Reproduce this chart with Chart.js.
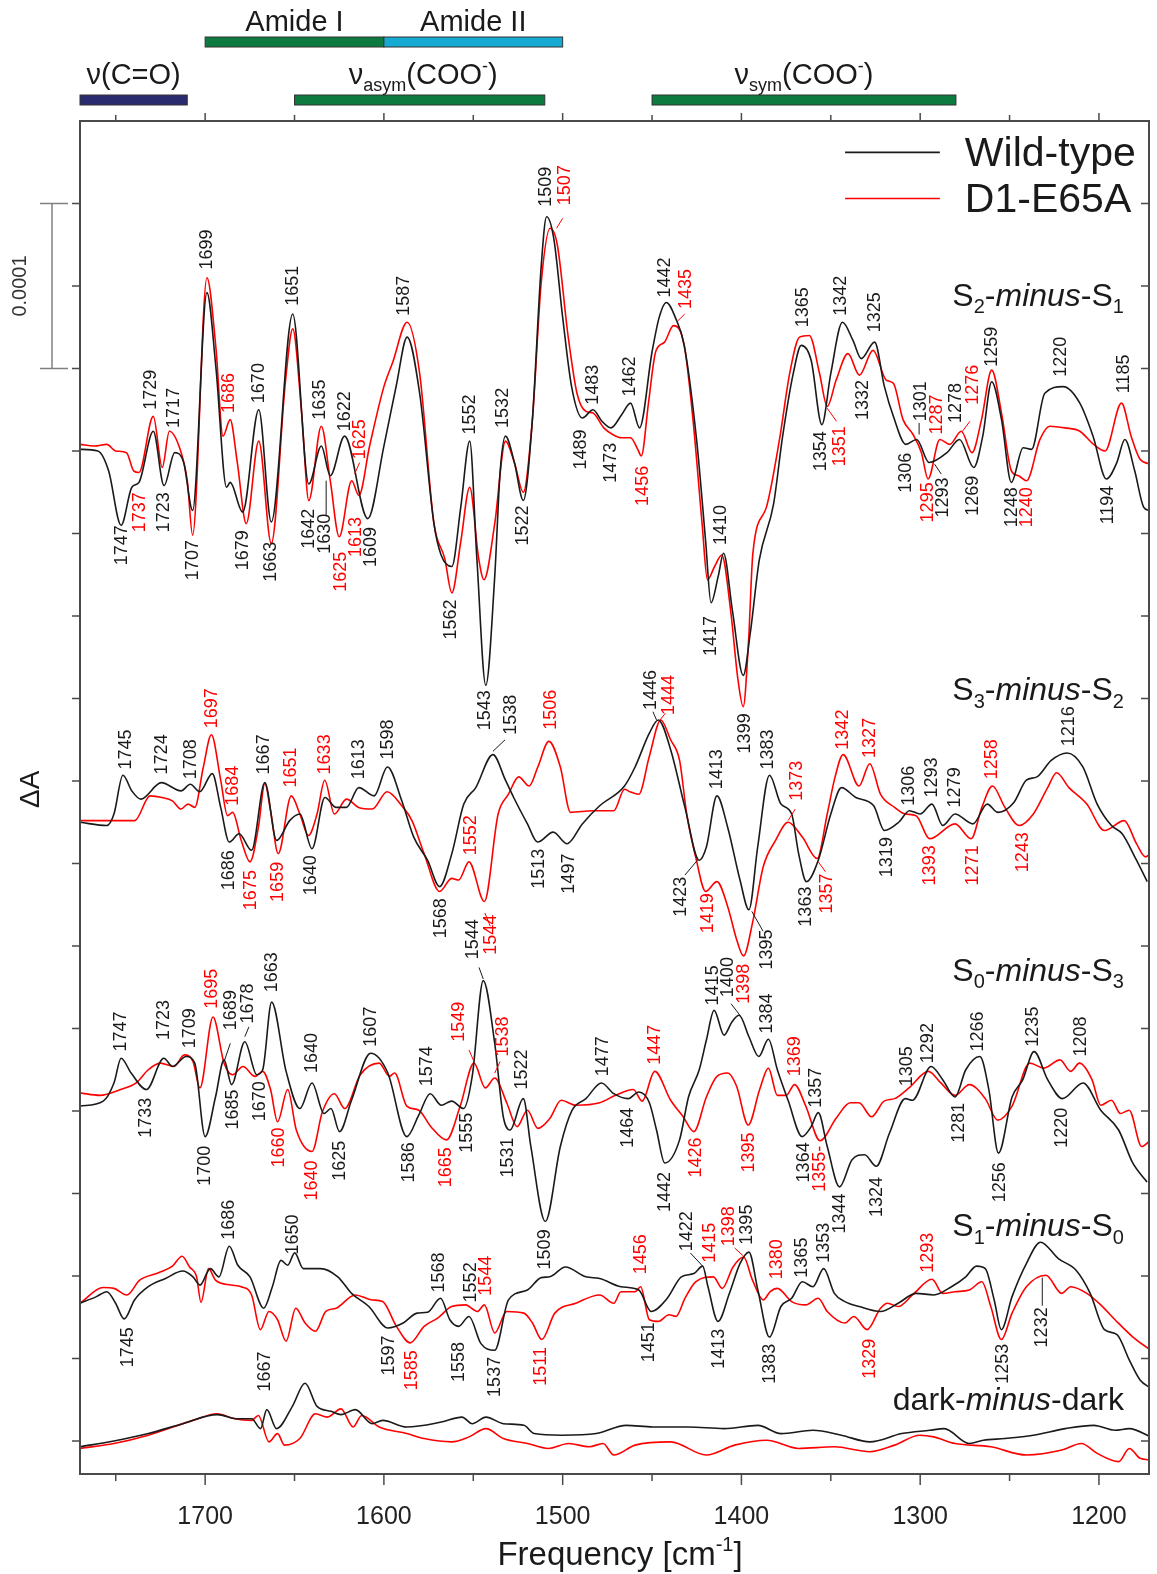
<!DOCTYPE html>
<html>
<head>
<meta charset="utf-8">
<title>Espectros FTIR S-state</title>
<script src="https://cdn.jsdelivr.net/npm/chart.js@4.4.1/dist/chart.umd.min.js"></script>
<style>
  html, body { margin: 0; padding: 0; background: #fff; }
  canvas { display: block; }
</style>
</head>
<body>
<canvas id="grafico" width="1157" height="1574"></canvas>
<script>
// Eje de frecuencia (cm-1), invertido
const xMin = 1172, xMax = 1770;
const xTickLabels = [1700, 1600, 1500, 1400, 1300, 1200];

// Desplazamiento vertical de cada espectro (unidades de 1e-5 ΔA)
const offsets = [60, 37.5, 20.5, 8.5, 0];

// Espectros: [numero de onda, ΔA x 1e-5]
const wtS2S1 = [[1770,0.1],[1760,0],[1754,-1.2],[1747,-4.5],[1741,-2.2],[1737,-1.9],[1729,1.2],[1723,-2.1],[1717,-0.1],[1712,-0.7],[1707,-3.6],[1699,9.6],[1694,5.1],[1688,-2.2],[1686,-1.9],[1679,-3.7],[1670,2.5],[1663,-4.3],[1651,8.3],[1642,-2.0],[1635,0.3],[1630,-1.5],[1622,0.9],[1609,-4.1],[1600,0.3],[1593,4.0],[1587,6.9],[1580,3.5],[1572,-4.4],[1568,-6.3],[1562,-7.0],[1557,-3.4],[1552,0.6],[1548,-6.5],[1543,-14.2],[1538,-7.6],[1535,-1.3],[1532,0.9],[1527,-0.7],[1522,-3.0],[1517,1.8],[1512,11.2],[1509,14.2],[1505,12.9],[1500,8.1],[1495,3.9],[1489,2.0],[1483,2.5],[1478,1.8],[1473,1.4],[1467,2.2],[1462,2.9],[1457,1.4],[1450,6.0],[1446,8.1],[1442,9.0],[1437,8.1],[1432,6.4],[1425,0.6],[1420,-5.5],[1417,-9.2],[1413,-7.6],[1410,-6.2],[1405,-9.7],[1399,-13.6],[1395,-11.0],[1390,-6.6],[1382,-3.2],[1377,0.85],[1371,4.7],[1366.5,6.4],[1361,5.5],[1355,1.6],[1350,4.7],[1343.5,7.8],[1337.6,6.7],[1333,5.6],[1325.5,6.6],[1320,3.9],[1315,2.1],[1308,0.4],[1302,0.7],[1295,-0.7],[1285,-0.1],[1278,0.7],[1270,-1.0],[1265,0.9],[1260,4.2],[1254.5,1.9],[1249,-1.9],[1242.4,0.2],[1237.7,0.1],[1230.3,3.5],[1220,3.9],[1210.7,2.9],[1203.3,0.9],[1195.8,-1.7],[1190,-0.7],[1185.5,0.7],[1180,-1.2],[1175,-3.4],[1172,-3.6]];
const mutS2S1 = [[1770,0.4],[1762,0.3],[1755,0.4],[1750,0],[1744,-0.1],[1740,-1.2],[1737,-1.3],[1729,2.1],[1724,-1.0],[1720,1.2],[1714,0.1],[1710,-1.8],[1707,-5.1],[1699,10.5],[1694,6.3],[1690,0.9],[1686,1.9],[1682,-0.7],[1677,-4.4],[1670,0.6],[1663,-5.6],[1655,4.3],[1651,7.4],[1646,2.3],[1642,-3.0],[1635,1.5],[1630,-1.8],[1625,-5.2],[1618,-1.8],[1614,-2.7],[1608,0.3],[1600,3.9],[1595,5.4],[1587,7.8],[1580,4.7],[1572,-4.4],[1566,-6.5],[1562,-8.6],[1557,-5.5],[1552,-2.2],[1547,-6.5],[1544,-7.8],[1538,-4.4],[1532,0.6],[1527,-0.7],[1522,-2.5],[1517,1.8],[1512,10.2],[1507,13.5],[1503,12.5],[1497,7.0],[1492,3.5],[1487,2.4],[1483,2.3],[1477,1.4],[1472,1.0],[1467,0.8],[1462,0.8],[1458,0.1],[1456,-0.3],[1452,2.9],[1448,6.0],[1443,6.6],[1438,7.6],[1432,6.4],[1427,1.8],[1422,-4.4],[1419,-7.8],[1415,-7.0],[1411,-6.3],[1406,-9.7],[1402,-13.8],[1399,-15.5],[1396,-11.5],[1393.6,-6.2],[1386,-3.4],[1378.7,0.7],[1373,4.7],[1367.5,6.9],[1362,7.0],[1356.3,4.7],[1352,2.7],[1347,4.3],[1340.4,5.9],[1334,4.6],[1326.4,6.1],[1319,4.3],[1315,4.1],[1309.6,1.9],[1304,1.0],[1299.3,-0.1],[1295.6,-1.7],[1289,0.7],[1283.5,0.4],[1277,1.2],[1271,-0.1],[1265.7,1.9],[1260,4.9],[1254.5,2.3],[1249,-1.2],[1245,-1.5],[1240.5,-1.8],[1233,0.7],[1227.5,1.5],[1219,1.4],[1210.7,1.2],[1203,0.4],[1196.6,0],[1187.4,2.9],[1182,0.9],[1177,-0.5],[1171,-0.8]];

const wtS3S2 = [[1770,0.0],[1755,-0.2],[1751,0.5],[1746,2.85],[1741,1.9],[1736,1.4],[1724.5,2.4],[1713.5,1.9],[1708.3,2.3],[1703,1.85],[1696,2.95],[1691.3,0.9],[1686.5,-1.2],[1681,-0.7],[1674,-1.7],[1666.6,2.4],[1660,-1.1],[1652.7,0.1],[1647,0.5],[1640.2,-1.6],[1633,1.5],[1626.7,0.9],[1621,0.9],[1614,2.1],[1605.5,1.6],[1598,3.35],[1590,1.3],[1583.3,-0.9],[1575.6,-2.3],[1568.8,-3.9],[1562,-1.9],[1555.3,1.1],[1548.6,2.1],[1539,4.1],[1532,2.55],[1527.4,1.5],[1519.7,-0.1],[1514,-1.2],[1505.3,-0.6],[1497.5,-1.3],[1489,-0.1],[1479.3,1.0],[1465.4,2.2],[1459.5,3.35],[1451.5,5.4],[1446.5,6.2],[1439.6,4.4],[1431.6,0.9],[1423.6,-2.3],[1419.6,-1.5],[1413.7,1.6],[1407.7,-0.3],[1400.8,-3.5],[1395.8,-5.3],[1390.9,-1.5],[1384.3,2.85],[1377.9,1.1],[1371.9,0.5],[1368,-1.9],[1363.6,-3.6],[1357,-2.3],[1350,0.5],[1344,2.1],[1336,1.5],[1326,1.0],[1320,-0.5],[1312,0.0],[1306,0.7],[1300,0.5],[1293.4,1.1],[1287.4,-0.2],[1280.5,0.5],[1270.5,-0.1],[1262.5,1.1],[1256.5,0.6],[1247.6,1.2],[1240.6,2.55],[1234.7,2.75],[1226.7,3.75],[1217.8,4.2],[1209,3.35],[1201,1.1],[1193,-0.2],[1187,-0.7],[1179,-2.3],[1173,-3.6]];
const mutS3S2 = [[1770,0.1],[1751,0.1],[1739.4,0.1],[1730.8,1.6],[1724.1,1.5],[1718.3,1.3],[1713.5,0.8],[1709.6,1.1],[1705.8,0.9],[1701,3.35],[1696.5,5.3],[1691.3,2.55],[1687.5,0.4],[1684.6,0.6],[1679.8,-1.1],[1674.9,-2.4],[1670.2,-0.3],[1666.6,2.35],[1663.4,0.7],[1659.1,-1.9],[1651.8,1.6],[1647,0.5],[1642.2,-0.8],[1637.4,0.5],[1633.1,2.55],[1627.7,0.5],[1620.9,1.4],[1614.2,0.9],[1606.5,0.8],[1598.2,1.85],[1590,1.0],[1584.3,0.1],[1577.5,-1.9],[1568.8,-4.2],[1562.1,-3.4],[1558.2,-3.5],[1552.4,-2.4],[1543.8,-4.8],[1536.1,0.5],[1530.3,1.7],[1524.6,2.75],[1518.7,2.2],[1513.9,3.35],[1507.7,4.9],[1501.3,3.35],[1495.6,0.6],[1483,0.7],[1471.4,0.7],[1465.4,2.0],[1462.4,1.85],[1457.4,1.7],[1451.5,4.0],[1445.1,6.2],[1439.6,5.0],[1434.6,3.75],[1430.6,0.5],[1425.6,-2.1],[1420,-4.2],[1413.7,-3.6],[1407.7,-5.1],[1402.7,-7.1],[1398.8,-8.1],[1393.8,-6.1],[1387.8,-2.7],[1380.9,-1.1],[1373.9,0.0],[1365.9,-0.9],[1357.6,-2.2],[1352,0.5],[1347.6,2.75],[1343.1,4.1],[1334.2,2.2],[1328.2,3.55],[1322.2,1.7],[1314.3,0.9],[1308.3,0.5],[1302.3,0.4],[1294.7,-1.0],[1280.5,-0.1],[1271.5,-1.0],[1265.5,0.9],[1259.6,2.2],[1252.6,0.9],[1244.6,-0.2],[1236.7,0.5],[1228.7,2.1],[1223.7,3.0],[1216.8,2.1],[1206.8,1.1],[1196.9,-0.5],[1185.9,0.1],[1179,-1.3],[1174,-2.1],[1171,-1.9]];

const wtS0S3 = [[1770,-0.2],[1757,0.1],[1751,1.2],[1747,2.7],[1741.4,1.8],[1732.8,0.8],[1723.1,2.7],[1718.3,2.2],[1710.6,2.8],[1705.8,2.4],[1700,-2.05],[1694.2,0.35],[1689.4,2.6],[1685.2,1.1],[1677.8,3.7],[1671.1,1.7],[1667.8,2.0],[1662.8,6.1],[1654.7,1.9],[1647,-0.35],[1640.2,1.2],[1633.5,-0.65],[1629.6,-0.35],[1624.8,-1.75],[1618.1,0.15],[1607.4,3.0],[1597.8,1.8],[1587.2,-2.05],[1580.5,-0.75],[1574.1,0.55],[1567.9,-0.15],[1562.1,0.1],[1555.4,-0.35],[1550.6,1.6],[1544.4,7.4],[1538,3.6],[1533.2,-0.85],[1529.4,-1.65],[1522,0.25],[1517.8,-2.65],[1509.7,-7.2],[1501.3,-2.65],[1494.7,-0.45],[1487,0.25],[1478.3,1.2],[1471.4,0.55],[1463.4,0.25],[1457.4,0.65],[1451.5,0.0],[1447.5,-1.65],[1442.9,-3.65],[1434.6,-2.25],[1429.6,0.35],[1423.6,2.0],[1419.6,3.8],[1415.3,5.6],[1409.7,4.1],[1405.3,4.9],[1401.3,5.3],[1395.8,4.0],[1390.3,2.8],[1384.9,3.85],[1379.9,2.0],[1373.9,0.15],[1366,-2.05],[1361,-1.45],[1357,-0.6],[1352,-2.65],[1345.1,-5.1],[1338.1,-3.45],[1331.1,-3.15],[1324.6,-3.85],[1317.2,-1.85],[1308.3,0.25],[1304.3,0.15],[1293.9,2.2],[1287.4,1.4],[1280.5,0.35],[1274.5,2.0],[1266.6,2.8],[1261.6,0.8],[1256.2,-3.05],[1248.6,0.35],[1242.6,1.4],[1236.3,3.1],[1228.7,1.4],[1220.4,0.25],[1208.9,1.2],[1199,-0.45],[1189,-1.65],[1181.1,-3.65],[1173.1,-4.8]];
const mutS0S3 = [[1770,0.6],[1758.8,0.45],[1747.3,0.8],[1738.6,1.2],[1731.8,2.0],[1725.1,2.4],[1717.4,2.2],[1711.6,2.9],[1706.8,2.5],[1702.9,0.9],[1695.6,5.2],[1689.4,2.4],[1684.6,1.7],[1678.8,2.2],[1672.1,1.6],[1667.8,1.9],[1663.4,0.8],[1659.5,-1.15],[1653.8,0.8],[1649,-1.65],[1640.2,-2.95],[1634.4,-0.55],[1627.7,0.55],[1621.9,-0.35],[1613.2,1.7],[1602.6,2.4],[1596.9,1.6],[1594,1.8],[1587.2,-0.2],[1580.5,-0.45],[1573.7,-1.45],[1565,-2.25],[1557.3,-0.2],[1549.6,2.4],[1543.3,0.9],[1538,1.5],[1531.3,0.0],[1525.5,-1.45],[1519.7,-0.45],[1513.9,-1.55],[1507.2,-0.95],[1500.8,0.15],[1492.7,-0.15],[1479.3,0.0],[1470.4,0.45],[1460.5,0.8],[1455.5,0.1],[1448.5,1.9],[1439.6,0.15],[1432.6,-0.85],[1426.6,-1.75],[1419.6,0.35],[1413.7,1.6],[1407.7,1.8],[1402.7,1.0],[1396.2,-1.35],[1389.8,0.8],[1384.9,2.1],[1379.9,0.45],[1374.9,0.45],[1370.3,1.1],[1364,-0.2],[1356,-2.3],[1347.1,-0.95],[1339.1,0.0],[1334.2,0.0],[1327.2,-0.85],[1320.2,0.1],[1314.3,0.25],[1306.3,0.9],[1295.4,1.9],[1288.4,1.2],[1280.5,0.45],[1272.5,1.1],[1263.6,0.25],[1256.6,-1.05],[1248.6,-0.2],[1238.7,2.4],[1230.8,2.1],[1221.8,2.6],[1215.8,1.9],[1210.9,2.4],[1203.9,1.4],[1199,-0.15],[1193,0.15],[1188,-0.65],[1183.1,-0.45],[1176.1,-2.65],[1171,-2.25]];

const wtS1S0 = [[1770,-0.15],[1760.8,0.25],[1755,0.55],[1750.1,-0.15],[1745.3,-1.1],[1739.5,0.05],[1731.8,0.85],[1722.2,1.35],[1712.5,1.8],[1706.8,1.45],[1702.9,0.95],[1697.1,1.95],[1692.3,1.45],[1686.5,3.3],[1681.7,2.15],[1674.9,1.45],[1667.2,-0.45],[1662.4,0.85],[1657.6,2.45],[1653.8,2.15],[1649.9,2.9],[1645.1,1.95],[1635.5,1.95],[1625.8,1.45],[1618.1,0.45],[1608.4,-0.35],[1597.8,-1.65],[1589.2,-1.35],[1581.4,-0.75],[1575.6,-0.7],[1568.3,0.15],[1563.1,-1.15],[1558.2,-1.55],[1552.4,-0.95],[1545.7,-2.6],[1538,-3.0],[1530.3,0.05],[1519.7,0.65],[1512,1.4],[1507.2,1.45],[1498.5,2.05],[1487,1.45],[1479.3,1.35],[1467.4,0.85],[1457.4,0.65],[1450.5,-0.65],[1441.5,0.15],[1433.6,1.45],[1426.6,1.65],[1421.7,2.1],[1418.7,0.85],[1413.1,-1.25],[1406.7,0.45],[1400.8,2.25],[1395.8,2.95],[1390.8,0.65],[1384.3,-2.2],[1377.9,-0.35],[1371.9,0.15],[1365.9,1.15],[1360,0.85],[1354,1.95],[1348,0.45],[1342.1,-0.05],[1334.1,-0.35],[1322.2,-0.65],[1312.3,-0.15],[1302.3,0.45],[1292.4,0.35],[1282.5,0.85],[1274.5,1.45],[1268.5,2.1],[1263.6,1.95],[1258.6,0.05],[1254.6,-1.75],[1248.6,0.25],[1240.6,2.25],[1232.7,3.55],[1222.7,2.55],[1212.8,1.85],[1204.9,0.45],[1196.9,-1.75],[1189.9,-2.05],[1183,-3.6],[1177,-4.8],[1171,-5.3]];
const mutS1S0 = [[1770,-0.15],[1757,0.8],[1751,0.75],[1743.8,0.35],[1736.6,1.25],[1726,1.7],[1718.3,2.1],[1712.9,2.7],[1708.7,2.05],[1704.8,1.45],[1702.3,-0.1],[1698.1,1.95],[1694.2,1.25],[1685.5,0.95],[1679.8,0.85],[1674,0.35],[1669.1,-1.75],[1664.3,-0.65],[1659.5,-1.15],[1654.7,-2.45],[1649.3,-0.45],[1644.1,-1.35],[1638.3,-1.85],[1632.5,-0.65],[1626.7,-0.45],[1616.1,0.35],[1606.5,0.05],[1600.7,-0.05],[1593,-1.55],[1585.3,-2.55],[1577.5,-1.55],[1569.9,-1.05],[1562.1,-0.35],[1554.4,-0.25],[1547.7,-0.65],[1543.8,-0.25],[1538,-1.95],[1531.3,-0.65],[1521.7,-0.75],[1516.9,-1.35],[1511.7,-2.35],[1504.4,-0.75],[1492.7,-0.15],[1479.3,0.35],[1471.4,-0.15],[1467.4,0.55],[1459.5,0.55],[1456.4,0.85],[1451.5,-1.15],[1446.5,-1.25],[1440.5,-0.85],[1436.6,-0.95],[1431.6,0.15],[1425.6,1.15],[1415.7,1.45],[1410.7,0.75],[1404.7,2.05],[1398.8,2.65],[1393.8,1.25],[1387.8,0.05],[1383.9,0.55],[1379.9,0.75],[1371.9,-0.05],[1364,-0.25],[1357,0.15],[1352,-0.65],[1342.1,-1.35],[1337.1,-0.95],[1329.7,-1.75],[1322.2,-0.45],[1318.2,-0.15],[1312.3,-0.35],[1304.3,0.35],[1293.4,1.3],[1287.4,0.45],[1280.5,0.55],[1272.5,0.65],[1265.5,1.15],[1260.5,-0.35],[1254.6,-2.35],[1248.6,-0.75],[1240.6,0.85],[1229.7,1.55],[1220.8,0.45],[1215.8,0.85],[1206.8,0.45],[1199,-0.25],[1191,-1.15],[1181,-2.2],[1171,-3.0]];

const wtDark = [[1770,-0.35],[1751,0],[1731.8,0.45],[1712.5,1.05],[1693.2,1.6],[1681.7,1.35],[1674,1.35],[1669,0.75],[1665.5,1.9],[1660,0.75],[1651.2,2.1],[1644.1,3.5],[1637.4,2.1],[1629.6,1.8],[1624,1.6],[1616,1.9],[1606.5,1.05],[1600.7,1.25],[1587.2,0.85],[1567.9,1.15],[1556.3,1.45],[1550.6,1.05],[1542.9,1.45],[1533.2,1.05],[1521.7,0.95],[1515.9,0.45],[1500.4,0.35],[1481.2,0.45],[1464.4,0.95],[1449.5,0.85],[1429.6,0.85],[1409.7,0.75],[1390.8,0.95],[1377.9,0.45],[1360,0.65],[1344.1,0.35],[1328.2,-0.05],[1310.3,0.45],[1294.6,0.65],[1286.6,0.75],[1272.5,-0.15],[1264.6,0.05],[1252.6,0.15],[1236.7,0.35],[1218.8,0.75],[1202.9,0.95],[1191,0.65],[1183,0.75],[1171,0.25]];
const mutDark = [[1770,-0.45],[1751,-0.15],[1731.8,0.35],[1706.8,1.25],[1693.2,1.65],[1683.6,1.35],[1674,1.25],[1670.2,1.55],[1664.3,-0.05],[1659.5,0.45],[1655.6,-0.25],[1647,0.15],[1638.3,1.65],[1631.6,1.45],[1624,1.95],[1617.2,0.85],[1612.4,1.55],[1602.6,0.85],[1587.2,0.45],[1577.5,0.15],[1562.1,-0.05],[1552.4,0.25],[1542.9,0.75],[1533.2,0.15],[1519.7,-0.15],[1508.1,-0.45],[1496.6,-0.15],[1485.1,-0.35],[1477.4,-0.15],[1471.4,-0.85],[1459.5,-0.25],[1439.6,-0.05],[1419.7,-0.85],[1403.8,-0.25],[1385.9,0.05],[1368,-0.45],[1348,-0.35],[1328.2,-0.65],[1314.3,-0.25],[1300.3,0.35],[1292.4,0.25],[1280.5,-0.15],[1260.5,-0.35],[1240.6,-0.85],[1220.8,-0.55],[1209.8,-0.15],[1201,-0.75],[1189,-1.25],[1183,-0.45],[1177,-1.05],[1171,-1.15]];

// Etiquetas de picos: [numero de onda, posicion vertical, texto, color, direccion]
const peakLabels = [
  // S2-minus-S1
  [1746.3,55.5,'1747','k','d'],[1736.6,57.5,'1737','r','d'],[1730,62.5,'1729','k','u'],[1722.8,57.5,'1723','k','d'],
  [1717.6,61.4,'1717','k','u'],[1707,54.6,'1707','k','d'],[1698.9,71.0,'1699','k','u'],[1686.4,62.3,'1686','r','u'],
  [1679,55.2,'1679','k','d'],[1670,62.9,'1670','k','u'],[1663,54.5,'1663','k','d'],[1651,68.8,'1651','k','u'],
  [1641.6,56.5,'1642','k','d'],[1635.9,61.9,'1635','k','u'],[1633,56.2,'1630','k','d'],[1622,61.2,'1622','k','u'],
  [1613.6,59.5,'1625','r','u'],[1615.5,56.0,'1613','r','d'],[1624,53.9,'1625','r','d'],[1607,55.4,'1609','k','d'],
  [1588.5,68.2,'1587','k','u'],[1562.4,51.0,'1562','k','d'],[1552,61.0,'1552','k','u'],[1543.6,45.5,'1543','k','d'],
  [1533.4,61.4,'1532','k','u'],[1522,56.7,'1522','k','d'],[1509.1,74.8,'1509','k','u'],[1498.4,74.9,'1507','r','u'],
  [1489.5,61.3,'1489','k','d'],[1483,62.8,'1483','k','u'],[1472.8,60.5,'1473','k','d'],[1462.5,63.3,'1462','k','u'],
  [1455,59.1,'1456','r','d'],[1443,69.3,'1442','k','u'],[1431,68.6,'1435','r','u'],[1416.8,50.0,'1417','k','d'],
  [1411.2,54.3,'1410','k','u'],[1397.8,44.1,'1399','k','d'],[1365.5,67.5,'1365','k','u'],[1344,68.2,'1342','k','u'],
  [1325.4,67.2,'1325','k','u'],[1331.9,64.3,'1332','k','d'],[1355.3,61.2,'1354','k','d'],[1345,61.5,'1351','r','d'],
  [1307.7,59.9,'1306','k','d'],[1299.3,61.8,'1301','k','u'],[1295.5,58.1,'1295','r','d'],[1287,58.4,'1293','k','d'],
  [1290.8,61.0,'1287','r','u'],[1279.8,61.7,'1278','k','u'],[1270.3,62.8,'1276','r','u'],[1270.3,58.5,'1269','k','d'],
  [1259.8,65.1,'1259','k','u'],[1248.9,57.8,'1248','k','d'],[1240.5,57.8,'1240','r','d'],[1221,64.5,'1220','k','u'],
  [1194.7,57.9,'1194','k','d'],[1186.1,63.5,'1185','k','u'],
  // S3-minus-S2
  [1744.4,40.7,'1745','k','u'],[1724.1,40.4,'1724','k','u'],[1707.7,40.1,'1708','k','u'],[1696.1,43.2,'1697','r','u'],
  [1684.2,38.5,'1684','r','u'],[1667.2,40.4,'1667','k','u'],[1651.8,39.6,'1651','r','u'],[1632.9,40.4,'1633','r','u'],
  [1614,40.1,'1613','k','u'],[1597.8,41.3,'1598','k','u'],[1686.5,35.8,'1686','k','d'],[1674.6,34.6,'1675','r','d'],
  [1659,35.1,'1659','r','d'],[1640.8,35.5,'1640','k','d'],[1567.9,32.9,'1568','k','d'],[1551.5,35.5,'1552','r','u'],
  [1540,31.9,'1544','r','d'],[1529,42.8,'1538','k','u'],[1506.3,43.1,'1506','r','u'],[1513,35.9,'1513','k','d'],
  [1496.6,35.6,'1497','k','d'],[1450.5,44.3,'1446','k','u'],[1440.5,44.0,'1444','r','u'],[1413.7,39.5,'1413','k','u'],
  [1433.6,34.2,'1423','k','d'],[1418.7,33.2,'1419','r','d'],[1385.8,31.0,'1395','k','d'],[1384.9,40.7,'1383','k','u'],
  [1368.9,38.8,'1373','r','u'],[1364,33.6,'1363','k','d'],[1352,34.4,'1357','r','d'],[1343.1,41.9,'1342','r','u'],
  [1328.2,41.4,'1327','r','u'],[1318.3,36.6,'1319','k','d'],[1306.3,38.5,'1306','k','u'],[1293.4,39.0,'1293','k','u'],
  [1280.5,38.4,'1279','k','u'],[1294.4,36.1,'1393','r','d'],[1270.5,36.1,'1271','r','d'],[1259.6,40.1,'1258','r','u'],
  [1242.6,36.9,'1243','r','d'],[1216.8,42.1,'1216','k','u'],
  // S0-minus-S3
  [1747.3,23.6,'1747','k','u'],[1732.8,20.8,'1733','k','d'],[1723.1,24.3,'1723','k','u'],[1708.7,23.8,'1709','k','u'],
  [1700,17.9,'1700','k','d'],[1696.1,26.2,'1695','r','u'],[1685.6,24.9,'1689','k','u'],[1676,25.3,'1678','k','u'],
  [1684.6,21.3,'1685','k','d'],[1669.1,21.8,'1670','k','d'],[1662.4,27.2,'1663','k','u'],[1658.6,19.0,'1660','r','d'],
  [1640.2,22.3,'1640','k','u'],[1640.2,17.0,'1640','r','d'],[1624.8,18.2,'1625','k','d'],[1607.4,23.9,'1607','k','u'],
  [1586.2,18.1,'1586','k','d'],[1575.6,21.5,'1574','k','u'],[1565,17.8,'1665','r','d'],[1553.5,19.9,'1555','k','d'],
  [1558.2,24.2,'1549','r','u'],[1550.3,29.2,'1544','k','u'],[1533.2,23.3,'1538','r','u'],[1530.3,18.4,'1531','k','d'],
  [1522.6,21.3,'1522','k','u'],[1477.4,22.1,'1477','k','u'],[1463.4,20.2,'1464','k','d'],[1448.5,22.8,'1447','r','u'],
  [1442.5,16.3,'1442','k','d'],[1425.6,18.4,'1426','r','d'],[1415.7,26.4,'1415','k','u'],[1407.7,26.9,'1400','k','u'],
  [1398.8,26.5,'1398','r','u'],[1385.8,24.7,'1384','k','u'],[1395.8,18.7,'1395','r','d'],[1369.9,22.1,'1369','r','u'],
  [1358,20.2,'1357','k','u'],[1365,18.1,'1364','k','d'],[1356,17.9,'1355-','r','d'],[1345,15.0,'1344','k','d'],
  [1324.2,16.0,'1324','k','d'],[1307.3,21.5,'1305','k','u'],[1295.4,22.9,'1292','k','u'],[1278.5,20.5,'1281','k','d'],
  [1267.5,23.6,'1266','k','u'],[1255.6,16.9,'1256','k','d'],[1236.7,23.9,'1235','k','u'],[1220.8,20.2,'1220','k','d'],
  [1209.9,23.3,'1208','k','u'],
  // S1-minus-S0
  [1743.4,6.9,'1745','k','d'],[1686.5,12.2,'1686','k','u'],[1650.8,11.3,'1650','k','u'],[1596.9,6.4,'1597','k','d'],
  [1584.3,5.5,'1585','r','d'],[1568.9,9.0,'1568','k','u'],[1558.2,6.0,'1558','k','d'],[1551.5,8.4,'1552','k','u'],
  [1542.9,8.8,'1544','r','u'],[1538,5.1,'1537','k','d'],[1512,5.7,'1511','r','d'],[1509.7,10.4,'1509','k','u'],
  [1456.4,10.1,'1456','r','u'],[1451.5,7.2,'1451','k','d'],[1430.6,11.5,'1422','k','u'],[1417.7,10.8,'1415','r','u'],
  [1406.7,11.8,'1398','r','u'],[1396.8,11.9,'1395','k','u'],[1412.7,6.8,'1413','k','d'],[1379.9,9.8,'1380','r','u'],
  [1383.9,5.9,'1383','k','d'],[1366,9.9,'1365','k','u'],[1354,10.8,'1353','k','u'],[1328.2,6.2,'1329','r','d'],
  [1295.4,10.2,'1293','r','u'],[1253.6,5.9,'1253','k','d'],[1231.7,8.1,'1232','k','d'],
  // dark-minus-dark
  [1666.3,3.0,'1667','k','u']
];

// Lineas guia de etiquetas: [x1, y1, x2, y2, color]
const leaders = [
  [1503.4,73.5,1500,74.1,'r'],[1435.5,67.9,1431.7,68.3,'r'],[1632.3,58.2,1632.3,56.1,'k'],[1616.4,58.6,1613.6,59.3,'r'],
  [1352.1,62.6,1346.8,61.8,'r'],[1300.6,61.7,1300.6,61.0,'k'],[1291.9,59.2,1288.2,58.6,'k'],[1276.3,61.2,1272.2,61.8,'r'],
  [1539,41.8,1532.2,42.5,'k'],[1447.5,43.7,1449.5,44.2,'k'],[1445.5,43.7,1442.6,44.1,'r'],[1424.6,35.2,1431.6,34.3,'k'],
  [1394.2,32.1,1387.9,30.9,'k'],[1373.9,37.6,1369.9,38.3,'r'],[1357,35.1,1353,34.5,'r'],[1543.5,32.0,1540.5,31.2,'r'],
  [1546.8,28.7,1544.4,28.0,'k'],[1552.4,23.7,1549.6,23.0,'r'],[1535,23.0,1538,22.3,'r'],[1685.9,24.1,1689.4,23.0,'k'],
  [1675.5,25.1,1677.8,24.5,'k'],[1405.8,26.5,1400.8,25.8,'k'],[1428.6,11.4,1421.7,10.6,'k'],[1403.8,11.7,1398.8,11.2,'r'],
  [1231.7,8.2,1231.7,9.9,'k']
];

// Titulos de cada espectro
const panelTitles = [
  {y: 68.8, parts: [['S',''],['2','sub'],['-',''],['minus','i'],['-',''],['S',''],['1','sub']]},
  {y: 44.9, parts: [['S',''],['3','sub'],['-',''],['minus','i'],['-',''],['S',''],['2','sub']]},
  {y: 27.9, parts: [['S',''],['0','sub'],['-',''],['minus','i'],['-',''],['S',''],['3','sub']]},
  {y: 12.4, parts: [['S',''],['1','sub'],['-',''],['minus','i'],['-',''],['S',''],['0','sub']]},
  {y: 1.9,  parts: [['dark-',''],['minus','i'],['-dark','']]}
];

// Bandas de asignacion sobre el grafico
const bands = [
  {from: 1770, to: 1710, color: '#2a2b6e', row: 1},
  {from: 1650, to: 1510, color: '#0d7a40', row: 1},
  {from: 1450, to: 1280, color: '#0d7a40', row: 1},
  {from: 1700, to: 1600, color: '#0d7a40', row: 0},
  {from: 1600, to: 1500, color: '#14aad2', row: 0}
];
const bandTexts = [
  {x: 1650, row: 0, parts: [['Amide I','']]},
  {x: 1550, row: 0, parts: [['Amide II','']]},
  {x: 1740, row: 1, parts: [['\u03bd(C=O)','']]},
  {x: 1578, row: 1, parts: [['\u03bd',''],['asym','sub'],['(COO',''],['-','sup'],[')','']]},
  {x: 1365, row: 1, parts: [['\u03bd',''],['sym','sub'],['(COO',''],['-','sup'],[')','']]}
];

const FAM = "'Liberation Sans', Arial, sans-serif";
const NEGRO = '#1a1a1a', ROJO = '#ff0000';
const colorOf = c => c === 'r' ? ROJO : NEGRO;

function richText(ctx, parts, x, yBase, size, align) {
  const fontFor = st => (st === 'i' ? 'italic ' : '') +
    Math.round(st === 'sub' || st === 'sup' ? size * 0.62 : size) + 'px ' + FAM;
  let total = 0;
  parts.forEach(([t, st]) => { ctx.font = fontFor(st); total += ctx.measureText(t).width; });
  let cx = align === 'right' ? x - total : align === 'center' ? x - total / 2 : x;
  ctx.textAlign = 'left';
  ctx.textBaseline = 'alphabetic';
  parts.forEach(([t, st]) => {
    ctx.font = fontFor(st);
    const dy = st === 'sub' ? size * 0.24 : st === 'sup' ? -size * 0.42 : 0;
    ctx.fillText(t, cx, yBase + dy);
    cx += ctx.measureText(t).width;
  });
}

const annotations = {
  id: 'annotations',
  afterDatasetsDraw(chart) {
    const {ctx, scales: {x, y}} = chart;
    ctx.save();

    // etiquetas de picos
    ctx.font = '18px ' + FAM;
    peakLabels.forEach(([wn, v, txt, c, dir]) => {
      ctx.save();
      ctx.fillStyle = colorOf(c);
      ctx.translate(x.getPixelForValue(wn), y.getPixelForValue(v));
      ctx.rotate(-Math.PI / 2);
      ctx.textAlign = dir === 'u' ? 'left' : 'right';
      ctx.textBaseline = 'middle';
      ctx.fillText(txt, 0, 0);
      ctx.restore();
    });

    // lineas guia
    ctx.lineWidth = 1;
    leaders.forEach(([x1, y1, x2, y2, c]) => {
      ctx.strokeStyle = colorOf(c);
      ctx.beginPath();
      ctx.moveTo(x.getPixelForValue(x1), y.getPixelForValue(y1));
      ctx.lineTo(x.getPixelForValue(x2), y.getPixelForValue(y2));
      ctx.stroke();
    });

    // titulos de los espectros
    ctx.fillStyle = NEGRO;
    panelTitles.forEach(t => richText(ctx, t.parts, x.getPixelForValue(1186), y.getPixelForValue(t.y), 32, 'right'));

    // leyenda
    [['Wild-type', NEGRO, 78.1], ['D1-E65A', ROJO, 75.3]].forEach(([txt, col, v]) => {
      const py = y.getPixelForValue(v);
      ctx.strokeStyle = col;
      ctx.lineWidth = 1.6;
      ctx.beginPath();
      ctx.moveTo(x.getPixelForValue(1342), py);
      ctx.lineTo(x.getPixelForValue(1289), py);
      ctx.stroke();
      ctx.fillStyle = NEGRO;
      ctx.font = '41px ' + FAM;
      ctx.textAlign = 'left';
      ctx.textBaseline = 'middle';
      ctx.fillText(txt, x.getPixelForValue(1275), py + 2);
    });
    ctx.restore();
  },
  afterDraw(chart) {
    const {ctx, chartArea: a, scales: {x, y}} = chart;
    ctx.save();

    // marco y marcas de los ejes
    ctx.strokeStyle = '#4a4a4a';
    ctx.lineWidth = 2;
    ctx.strokeRect(a.left, a.top, a.right - a.left, a.bottom - a.top);
    ctx.lineWidth = 1.5;
    ctx.beginPath();
    for (let v = 0; v < 80; v += 5) {
      const py = y.getPixelForValue(v);
      ctx.moveTo(a.left - 8, py); ctx.lineTo(a.left, py);
      ctx.moveTo(a.right - 8, py); ctx.lineTo(a.right, py);
    }
    for (let wn = 1750; wn >= 1200; wn -= 50) {
      const px = x.getPixelForValue(wn);
      const major = wn % 100 === 0;
      ctx.moveTo(px, a.top - (major ? 8 : 6)); ctx.lineTo(px, a.top);
      ctx.moveTo(px, a.bottom); ctx.lineTo(px, a.bottom + (major ? 11 : 7));
    }
    ctx.stroke();

    // etiquetas del eje x
    ctx.fillStyle = '#222';
    ctx.font = '25px ' + FAM;
    ctx.textAlign = 'center';
    ctx.textBaseline = 'middle';
    xTickLabels.forEach(wn => ctx.fillText(String(wn), x.getPixelForValue(wn), 1517));

    // barras de asignacion
    bands.forEach(b => {
      const x1 = x.getPixelForValue(b.from), x2 = x.getPixelForValue(b.to);
      const top = b.row === 0 ? 37 : 95;
      ctx.fillStyle = b.color;
      ctx.fillRect(x1, top, x2 - x1, 10);
      ctx.strokeStyle = '#333';
      ctx.lineWidth = 1;
      ctx.strokeRect(x1, top, x2 - x1, 10);
    });
    ctx.fillStyle = NEGRO;
    bandTexts.forEach(t => richText(ctx, t.parts, x.getPixelForValue(t.x), t.row === 0 ? 31 : 84, 29, 'center'));

    // barra de escala 0.0001
    const sTop = y.getPixelForValue(75), sBot = y.getPixelForValue(65);
    ctx.strokeStyle = '#808080';
    ctx.lineWidth = 1.5;
    ctx.beginPath();
    ctx.moveTo(52, sTop); ctx.lineTo(52, sBot);
    ctx.moveTo(40, sTop); ctx.lineTo(68, sTop);
    ctx.moveTo(40, sBot); ctx.lineTo(68, sBot);
    ctx.stroke();
    ctx.fillStyle = '#333';
    ctx.save();
    ctx.translate(20, y.getPixelForValue(70));
    ctx.rotate(-Math.PI / 2);
    ctx.font = '20px ' + FAM;
    ctx.textAlign = 'center';
    ctx.textBaseline = 'middle';
    ctx.fillText('0.0001', 0, 0);
    ctx.restore();

    // titulo del eje y
    ctx.save();
    ctx.fillStyle = NEGRO;
    ctx.translate(31, y.getPixelForValue(39.5));
    ctx.rotate(-Math.PI / 2);
    ctx.font = '28px ' + FAM;
    ctx.textAlign = 'center';
    ctx.textBaseline = 'middle';
    ctx.fillText('\u0394A', 0, 0);
    ctx.restore();

    // titulo del eje x
    ctx.fillStyle = NEGRO;
    richText(ctx, [['Frequency [cm',''],['-1','sup'],[']','']], 620, 1565, 33, 'center');
    ctx.restore();
  }
};

// Construir los conjuntos de datos
const spectra = [[wtS2S1, mutS2S1], [wtS3S2, mutS3S2], [wtS0S3, mutS0S3], [wtS1S0, mutS1S0], [wtDark, mutDark]];
const toXY = (arr, off) => arr.map(([wn, v]) => ({x: wn, y: v + off}));
const datasets = [];
spectra.forEach(([wt], i) => datasets.push({label: 'Wild-type', data: toXY(wt, offsets[i]), borderColor: NEGRO}));
spectra.forEach(([, mut], i) => datasets.push({label: 'D1-E65A', data: toXY(mut, offsets[i]), borderColor: ROJO}));
datasets.forEach(d => Object.assign(d, {borderWidth: 1.6, pointRadius: 0, fill: false, cubicInterpolationMode: 'monotone'}));

new Chart(document.getElementById('grafico').getContext('2d'), {
  type: 'line',
  data: {datasets: datasets},
  options: {
    responsive: false,
    animation: false,
    devicePixelRatio: 1,
    layout: {padding: {left: 80, right: 8, top: 121, bottom: 0}},
    plugins: {legend: {display: false}, tooltip: {enabled: false}},
    scales: {
      x: {
        type: 'linear', min: xMin, max: xMax, reverse: true,
        grid: {display: false, drawTicks: false},
        border: {display: false},
        ticks: {display: false},
        afterFit: s => { s.height = 100; }
      },
      y: {type: 'linear', min: -2, max: 80, display: false}
    }
  },
  plugins: [annotations]
});
</script>
</body>
</html>
